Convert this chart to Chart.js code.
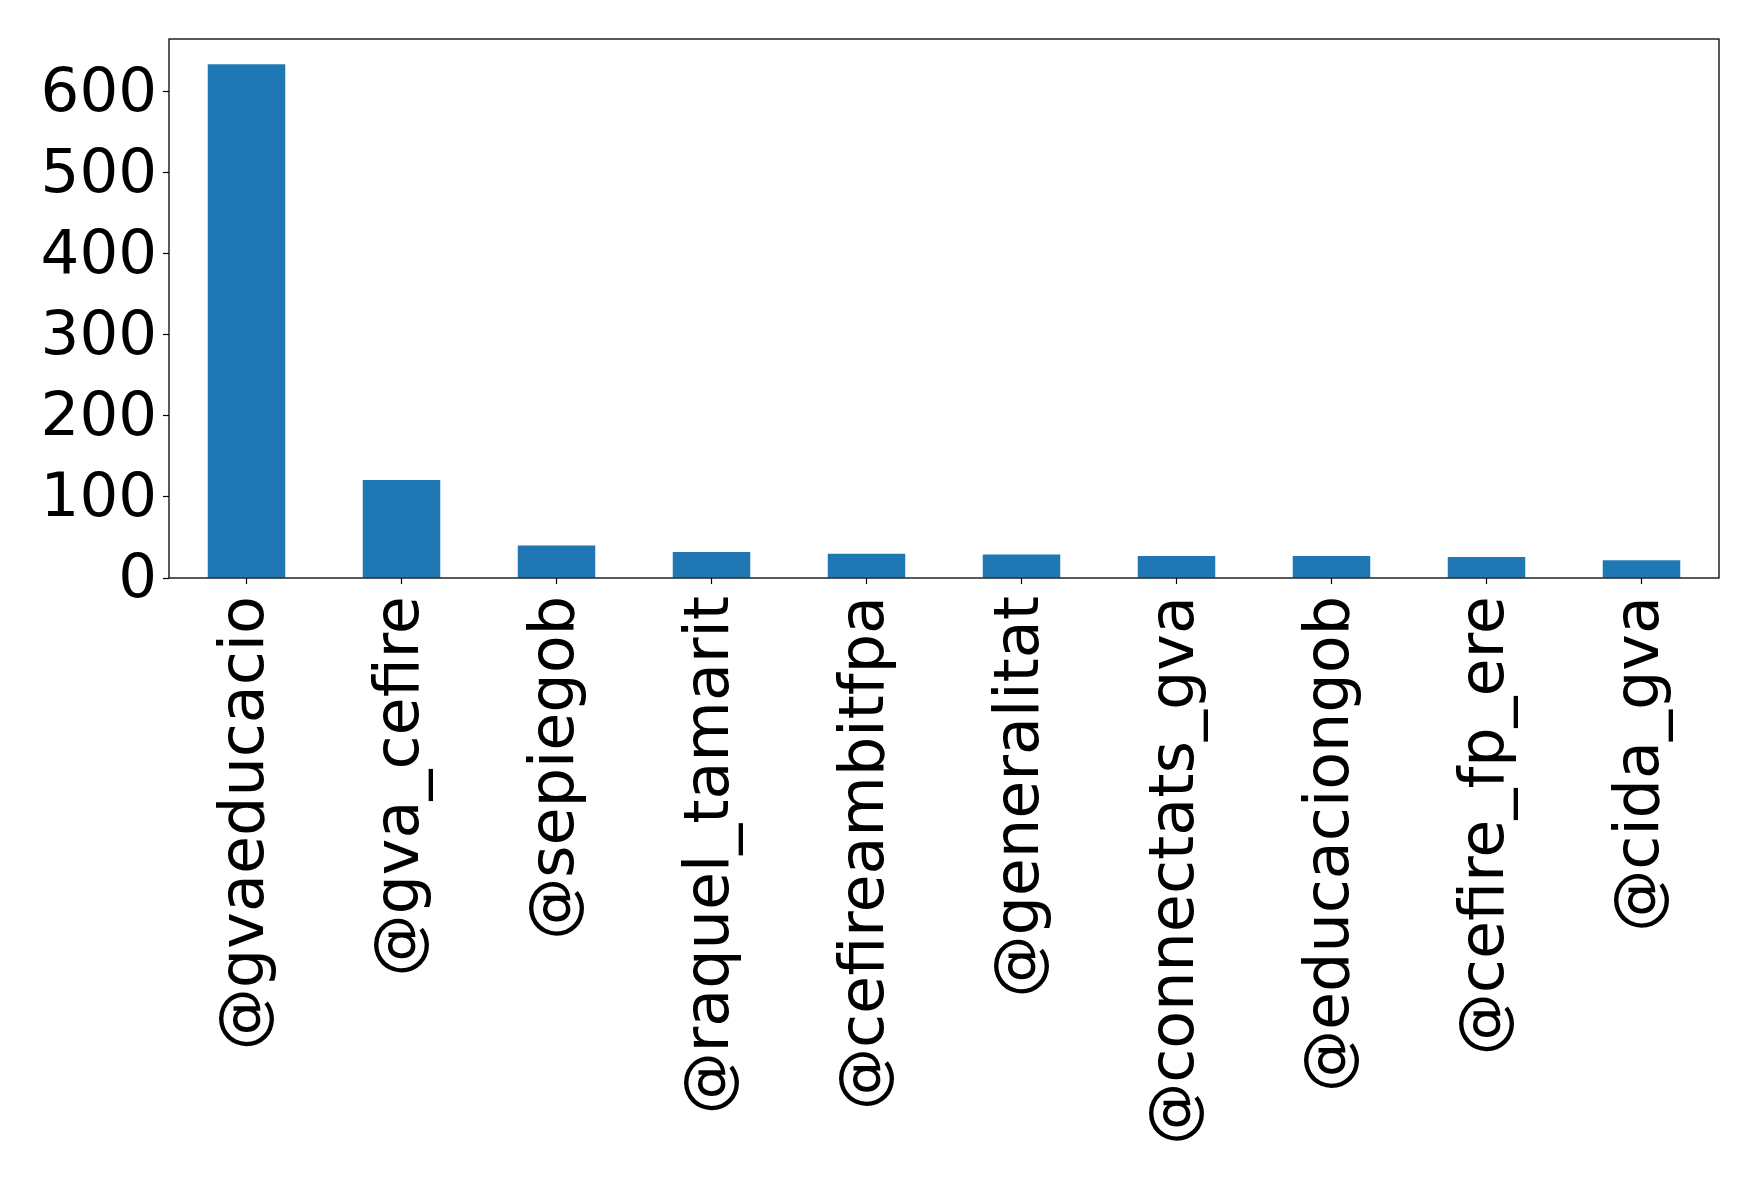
<!DOCTYPE html>
<html>
<head>
<meta charset="utf-8">
<script src="https://cdn.jsdelivr.net/npm/chart.js@4"></script>
<style>
  body { margin: 0; background: #fff; }
</style>
</head>
<body>
<canvas id="cuentas" width="1759" height="1181"></canvas>
<script>
const cuentas = ["@gvaeducacio", "@gva_cefire", "@sepiegob", "@raquel_tamarit", "@cefireambitfpa",
  "@generalitat", "@connectats_gva", "@educaciongob", "@cefire_fp_ere", "@cida_gva"];
const menciones = [634, 121, 40, 32, 30, 29, 27, 27, 26, 22];
const yTicks = [0, 100, 200, 300, 400, 500, 600];

// marco negro alrededor del area del grafico (como matplotlib)
const marco = {
  id: "marco",
  afterDraw(chart) {
    const a = chart.chartArea;
    const c = chart.ctx;
    c.save();
    c.strokeStyle = "#000";
    c.lineWidth = 1.3;
    c.strokeRect(a.left, a.top, a.right - a.left, a.bottom - a.top);
    c.restore();
  }
};

Chart.defaults.font.family = "DejaVu Sans";
Chart.defaults.color = "#000";

new Chart(document.getElementById("cuentas"), {
  type: "bar",
  data: {
    labels: cuentas,
    datasets: [{
      data: menciones,
      backgroundColor: "#1f77b4",
      borderWidth: 0,
      barPercentage: 0.5,
      categoryPercentage: 1.0
    }]
  },
  options: {
    responsive: false,
    animation: false,
    layout: { padding: { left: 0, top: 39, right: 40, bottom: 0 } },
    plugins: { legend: { display: false }, tooltip: { enabled: false } },
    scales: {
      x: {
        grid: { offset: false, drawOnChartArea: false, tickLength: 6, tickColor: "#000", tickWidth: 1.2 },
        border: { display: false },
        ticks: { font: { size: 62 }, minRotation: 90, maxRotation: 90, padding: 12, autoSkip: false },
        afterFit(scale) { scale.height = 603; scale.paddingLeft = 0; scale.paddingRight = 0; }
      },
      y: {
        min: 0,
        max: 665,
        grid: { drawOnChartArea: false, tickLength: 6, tickColor: "#000", tickWidth: 1.2 },
        border: { display: false },
        ticks: { font: { size: 61 }, padding: 6, labelOffset: 3 },
        afterBuildTicks(scale) { scale.ticks = yTicks.map(v => ({ value: v })); },
        afterFit(scale) { scale.width = 169; scale.paddingTop = 0; scale.paddingBottom = 0; }
      }
    }
  },
  plugins: [marco]
});
</script>
</body>
</html>
